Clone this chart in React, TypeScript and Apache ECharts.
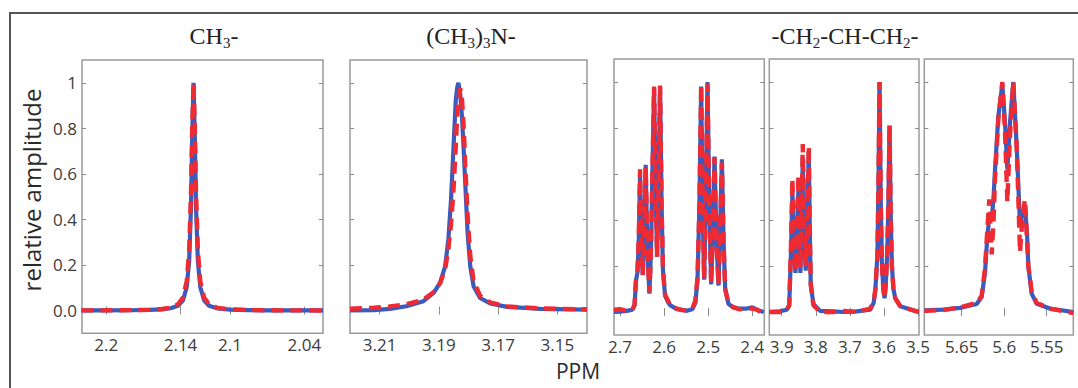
import React, { useEffect, useRef } from "react";
import * as echarts from "echarts";

// ---------- data ----------
const ppm1 = [2.22, 2.2, 2.18, 2.165, 2.155, 2.148, 2.142, 2.138, 2.135, 2.133, 2.1315, 2.1305, 2.1295, 2.1285, 2.1275, 2.126, 2.124, 2.121, 2.117, 2.11, 2.1, 2.085, 2.07, 2.05, 2.025];
const blue1 = [0.0004, 0.0007, 0.0013, 0.0027, 0.0052, 0.0099, 0.021, 0.045, 0.102, 0.218, 0.461, 0.774, 1, 0.774, 0.461, 0.218, 0.102, 0.045, 0.021, 0.0089, 0.0039, 0.0017, 0.001, 0.0005, 0.0003];
const red1 = [0.0005, 0.0009, 0.0017, 0.0035, 0.0068, 0.0127, 0.0275, 0.0575, 0.127, 0.265, 0.524, 0.815, 1, 0.815, 0.524, 0.265, 0.127, 0.0575, 0.0275, 0.0115, 0.005, 0.0022, 0.0012, 0.0007, 0.0004];

const ppm2 = [3.22, 3.212, 3.2065, 3.201, 3.1952, 3.1918, 3.1896, 3.1879, 3.1868, 3.1859, 3.1851, 3.1843, 3.1838, 3.1834, 3.1828, 3.1822, 3.1816, 3.1811, 3.1803, 3.1794, 3.1783, 3.1761, 3.1727, 3.167, 3.1558, 3.14];
const blue2 = [0.0, 0.002, 0.007, 0.019, 0.041, 0.077, 0.121, 0.194, 0.311, 0.486, 0.705, 0.924, 0.98, 1.0, 0.95, 0.85, 0.7, 0.56, 0.34, 0.194, 0.107, 0.055, 0.031, 0.016, 0.007, 0.004];
const red2 = [0.008, 0.012, 0.018, 0.027, 0.048, 0.08, 0.12, 0.18, 0.27, 0.38, 0.52, 0.72, 0.86, 0.93, 0.975, 0.93, 0.8, 0.64, 0.42, 0.24, 0.13, 0.065, 0.036, 0.018, 0.009, 0.005];

const ppm3 = [2.714, 2.7, 2.685, 2.672, 2.667, 2.6635, 2.6605, 2.6575, 2.6545, 2.6515, 2.6485, 2.6455, 2.6417, 2.638, 2.6333, 2.63, 2.6265, 2.6227, 2.6193, 2.6159, 2.6125, 2.6091, 2.6055, 2.6025, 2.5977, 2.59, 2.5864, 2.5712, 2.56, 2.5485, 2.536, 2.529, 2.5242, 2.52, 2.5159, 2.5125, 2.5091, 2.5055, 2.5015, 2.4975, 2.4932, 2.4895, 2.4856, 2.481, 2.4765, 2.473, 2.4689, 2.465, 2.4614, 2.4538, 2.4424, 2.43, 2.4121, 2.4, 2.3894, 2.3742];
const blue3 = [0.0, 0.002, 0.005, 0.01, 0.03, 0.14, 0.17, 0.3, 0.6, 0.3, 0.16, 0.3, 0.64, 0.28, 0.08, 0.25, 0.6, 0.975, 0.55, 0.24, 0.55, 0.98, 0.45, 0.18, 0.07, 0.04, 0.03, 0.012, 0.01, 0.005, 0.012, 0.04, 0.14, 0.45, 0.98, 0.45, 0.14, 0.5, 1.0, 0.45, 0.12, 0.35, 0.676, 0.3, 0.115, 0.35, 0.664, 0.3, 0.1, 0.035, 0.02, 0.015, 0.015, 0.02, 0.01, 0.0];
const red3 = [0.01, 0.012, 0.005, 0.01, 0.03, 0.15, 0.17, 0.32, 0.62, 0.3, 0.16, 0.3, 0.63, 0.28, 0.085, 0.25, 0.6, 0.98, 0.55, 0.24, 0.55, 0.985, 0.45, 0.18, 0.075, 0.045, 0.03, 0.015, 0.008, 0.007, 0.015, 0.05, 0.15, 0.45, 0.988, 0.45, 0.145, 0.5, 0.99, 0.45, 0.125, 0.35, 0.67, 0.3, 0.12, 0.35, 0.65, 0.3, 0.1, 0.035, 0.02, 0.012, 0.015, 0.015, 0.01, -0.01];

const ppm4 = [3.936, 3.905, 3.885, 3.878, 3.873, 3.8687, 3.864, 3.8599, 3.8555, 3.8511, 3.848, 3.8452, 3.842, 3.8383, 3.834, 3.8295, 3.825, 3.8207, 3.817, 3.8148, 3.807, 3.7874, 3.75, 3.7187, 3.68, 3.6403, 3.63, 3.625, 3.619, 3.616, 3.6129, 3.6095, 3.606, 3.6018, 3.5981, 3.5945, 3.5905, 3.587, 3.5835, 3.58, 3.5765, 3.572, 3.5668, 3.5521, 3.52, 3.498];
const blue4 = [0.0, 0.003, 0.01, 0.03, 0.25, 0.52, 0.3, 0.17, 0.3, 0.53, 0.3, 0.17, 0.35, 0.67, 0.35, 0.18, 0.38, 0.7, 0.3, 0.12, 0.035, 0.005, 0.003, 0.0, 0.003, 0.01, 0.04, 0.1, 0.25, 0.55, 1.0, 0.5, 0.22, 0.1, 0.06, 0.12, 0.25, 0.45, 0.81, 0.42, 0.2, 0.1, 0.06, 0.025, 0.01, 0.0];
const red4 = [0.0, 0.0, 0.008, 0.03, 0.28, 0.58, 0.33, 0.18, 0.33, 0.595, 0.35, 0.19, 0.4, 0.73, 0.38, 0.2, 0.4, 0.72, 0.3, 0.12, 0.03, 0.0, 0.0, 0.005, 0.0, 0.015, 0.045, 0.1, 0.25, 0.55, 1.0, 0.5, 0.22, 0.1, 0.06, 0.12, 0.25, 0.45, 0.815, 0.42, 0.2, 0.1, 0.06, 0.025, 0.01, 0.0];

const ppm5 = [5.694, 5.672, 5.652, 5.6324, 5.6265, 5.6226, 5.6198, 5.6175, 5.6147, 5.6125, 5.6108, 5.6069, 5.6022, 5.599, 5.5963, 5.593, 5.5893, 5.5853, 5.5814, 5.5783, 5.5755, 5.573, 5.5716, 5.5677, 5.5618, 5.5461, 5.5187];
const blue5 = [0.007, 0.01, 0.018, 0.035, 0.065, 0.17, 0.33, 0.41, 0.4, 0.5, 0.62, 0.85, 0.99, 0.82, 0.62, 0.83, 1.0, 0.72, 0.38, 0.43, 0.46, 0.33, 0.2, 0.08, 0.036, 0.015, 0.0];
const red5 = [0.005, 0.008, 0.02, 0.04, 0.07, 0.19, 0.36, 0.49, 0.25, 0.4, 0.58, 0.84, 1.0, 0.78, 0.48, 0.78, 1.0, 0.72, 0.26, 0.42, 0.49, 0.3, 0.2, 0.09, 0.04, 0.015, -0.005];

const xTicks1 = [2.2, 2.14, 2.1, 2.04];
const xLabels1 = ["2.2", "2.14", "2.1", "2.04"];
const xTicks2 = [3.21, 3.19, 3.17, 3.15];
const xLabels2 = ["3.21", "3.19", "3.17", "3.15"];
const xTicks3 = [2.7, 2.6, 2.5, 2.4];
const xLabels3 = ["2.7", "2.6", "2.5", "2.4"];
const xTicks4 = [3.9, 3.8, 3.7, 3.6, 3.5];
const xLabels4 = ["3.9", "3.8", "3.7", "3.6", "3.5"];
const xTicks5 = [5.65, 5.6, 5.55];
const xLabels5 = ["5.65", "5.6", "5.55"];
const yTicks = [0, 0.2, 0.4, 0.6, 0.8, 1];
const yLabels = ["0.0", "0.2", "0.4", "0.6", "0.8", "1"];

// ---------- layout ----------
const BLUE = "#3a5bbd";
const RED = "#ee2a33";
const SANS = "'Open Sans', 'Noto Sans', sans-serif";
const SERIF = "'Liberation Serif', 'DejaVu Serif', serif";

const panels = [
  { ppm: ppm1, blue: blue1, red: red1, ticks: xTicks1, labels: xLabels1, min: 2.025, max: 2.2195, left: 82, top: 60, width: 241, height: 273.3 },
  { ppm: ppm2, blue: blue2, red: red2, ticks: xTicks2, labels: xLabels2, min: 3.14, max: 3.22, left: 350, top: 60, width: 237, height: 273.3 },
  { ppm: ppm3, blue: blue3, red: red3, ticks: xTicks3, labels: xLabels3, min: 2.3727, max: 2.7136, left: 614, top: 59, width: 150.3, height: 276 },
  { ppm: ppm4, blue: blue4, red: red4, ticks: xTicks4, labels: xLabels4, min: 3.497, max: 3.9365, left: 769.3, top: 59, width: 149.7, height: 276 },
  { ppm: ppm5, blue: blue5, red: red5, ticks: xTicks5, labels: xLabels5, min: 5.5187, max: 5.694, left: 924.3, top: 59, width: 149, height: 276 },
];

function buildOption() {
  const grid: any[] = [];
  const xAxis: any[] = [];
  const yAxis: any[] = [];
  const series: any[] = [];
  const tickStyle = { color: "#8a8a8a", width: 1 };

  panels.forEach((p, i) => {
    grid.push({
      left: p.left, top: p.top, width: p.width, height: p.height,
      show: true, borderColor: "#9b9b9b", borderWidth: 1.5, backgroundColor: "transparent",
    });
    const baseX = {
      type: "value", gridIndex: i, min: p.min, max: p.max, inverse: true,
      axisLine: { show: false }, splitLine: { show: false },
    };
    xAxis.push({
      ...baseX, position: "bottom",
      axisTick: { show: true, inside: true, length: 4, customValues: p.ticks, lineStyle: tickStyle },
      axisLabel: {
        show: true, customValues: p.ticks, margin: 3, fontSize: 17, color: "#3c3c3c", fontFamily: SANS,
        formatter: (v: number) => {
          const k = p.ticks.findIndex((t) => Math.abs(t - v) < 1e-9);
          return k >= 0 ? p.labels[k] : "";
        },
      },
    });
    xAxis.push({
      ...baseX, position: "top",
      axisTick: { show: true, inside: true, length: 4, customValues: p.ticks, lineStyle: tickStyle },
      axisLabel: { show: false },
    });
    const baseY = {
      type: "value", gridIndex: i, min: -0.1, max: 1.1,
      axisLine: { show: false }, splitLine: { show: false },
    };
    yAxis.push({
      ...baseY, position: "left",
      axisTick: { show: true, inside: true, length: 4, customValues: yTicks, lineStyle: tickStyle },
      axisLabel: {
        show: i === 0, customValues: yTicks, margin: 5, fontSize: 17, color: "#3c3c3c", fontFamily: SANS,
        formatter: (v: number) => {
          const k = yTicks.findIndex((t) => Math.abs(t - v) < 1e-9);
          return k >= 0 ? yLabels[k] : "";
        },
      },
    });
    yAxis.push({
      ...baseY, position: "right",
      axisTick: { show: true, inside: true, length: 4, customValues: yTicks, lineStyle: tickStyle },
      axisLabel: { show: false },
    });
    series.push({
      type: "line", xAxisIndex: 2 * i, yAxisIndex: 2 * i, symbol: "none", showSymbol: false,
      data: p.ppm.map((x, j) => [x, p.blue[j]]),
      lineStyle: { color: BLUE, width: 4.2 }, z: 2,
    });
    series.push({
      type: "line", xAxisIndex: 2 * i, yAxisIndex: 2 * i, symbol: "none", showSymbol: false,
      data: p.ppm.map((x, j) => [x, p.red[j]]),
      lineStyle: { color: RED, width: 4.4, type: [12, 7], cap: "butt" }, z: 3,
    });
  });

  const titleRich = {
    m: { fontSize: 24, lineHeight: 24, fontFamily: SERIF, fill: "#222", color: "#222" },
    s: { fontSize: 15, lineHeight: 11, fontFamily: SERIF, fill: "#222", color: "#222", padding: [14, 0, 0, 0] },
  };
  const title = (x: number, text: string) => ({
    type: "text", x, y: 36,
    style: { text, rich: titleRich, textAlign: "center", textVerticalAlign: "middle", verticalAlign: "middle", fill: "#222" },
  });

  return {
    animation: false,
    backgroundColor: "#ffffff",
    grid, xAxis, yAxis, series,
    graphic: [
      { type: "rect", shape: { x: 10, y: 13, width: 1200, height: 500 }, style: { fill: "none", stroke: "#555", lineWidth: 2 } },
      title(214, "{m|CH}{s|3}{m|-}"),
      title(471, "{m|(CH}{s|3}{m|)}{s|3}{m|N-}"),
      title(845, "{m|-CH}{s|2}{m|-CH-CH}{s|2}{m|-}"),
      {
        type: "text", x: 31, y: 190, rotation: Math.PI / 2,
        style: { text: "relative amplitude", font: "24px 'Open Sans'", fill: "#2a2a2a", textAlign: "center", textVerticalAlign: "middle", verticalAlign: "middle" },
      },
      {
        type: "text", x: 578, y: 371,
        style: { text: "PPM", font: "21px 'Open Sans'", fill: "#2a2a2a", textAlign: "center", textVerticalAlign: "middle", verticalAlign: "middle" },
      },
    ],
  };
}

export default function App() {
  const ref = useRef<HTMLDivElement>(null);
  useEffect(() => {
    if (!ref.current) return;
    const chart = echarts.init(ref.current, undefined, { renderer: "svg" });
    chart.setOption(buildOption() as any);
    return () => chart.dispose();
  }, []);
  return (
    <div
      ref={ref}
      style={{ position: "absolute", left: 0, top: 0, width: 1078, height: 388, background: "#fff" }}
    />
  );
}
